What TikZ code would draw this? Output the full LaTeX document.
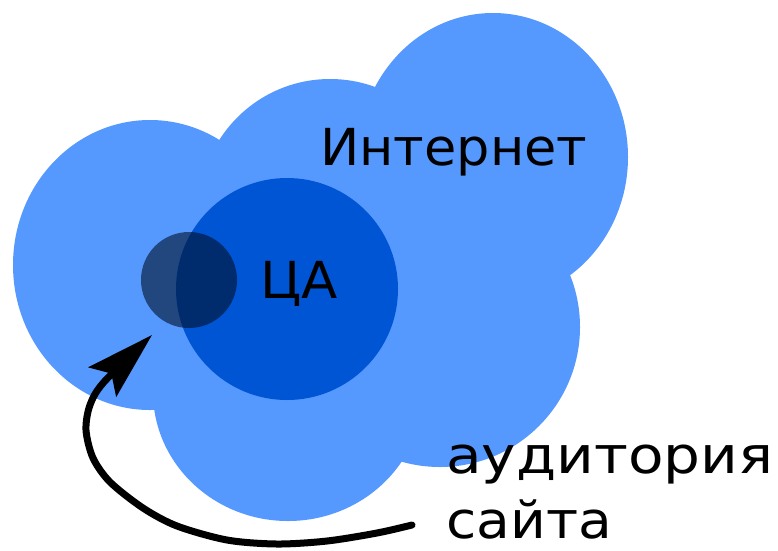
\documentclass[tikz,border=0pt]{standalone}
\usepackage{fontspec}
\setmainfont{DejaVu Sans}
\usetikzlibrary{arrows.meta}
\definecolor{lightb}{HTML}{5599FF}
\definecolor{darkb}{HTML}{0055D4}
\definecolor{navyc}{RGB}{0,17,43}
\tikzset{
  lobe/.style={fill=lightb, draw=none},
  lbl/.style={anchor=base west, inner sep=0pt, text=black},
  pointer/.style={line width=7pt, line cap=round, -{Stealth[length=68pt, width=40pt, inset=12pt]}}
}
\newcommand{\lblfont}[1]{\fontsize{51}{65}\selectfont\addfontfeature{FakeStretch=#1}}
\begin{document}
\begin{tikzpicture}[x=1pt, y=-1pt]
\useasboundingbox (0,0) rectangle (778,550);
% cloud
\fill[lobe] (150,265) ellipse [x radius=137, y radius=145];
\fill[lobe] (330,210) circle [radius=131];
\fill[lobe] (493,157) ellipse [x radius=135, y radius=144];
\fill[lobe] (440,327) circle [radius=140];
\fill[lobe] (288,392) ellipse [x radius=135, y radius=129];
% target audience
\node[circle, fill=darkb, minimum size=222pt, inner sep=0pt] (ca) at (287,289) {};
\node[circle, fill=navyc, fill opacity=0.6, minimum size=96pt, inner sep=0pt] (sc) at (189,280) {};
% labels
\node[lbl, font=\lblfont{1.03}] (inet) at (320,165) {Интернет};
\node[lbl, font=\lblfont{1.04}] (catext) at (260,298) {ЦА};
\node[lbl, font=\lblfont{1.14}] (aud) at (446,473) {аудитория};
\node[lbl, font=\lblfont{1.08}] (site) at (446,538) {сайта};
% arrow
\coordinate (arrstart) at (412,525);
\coordinate (arrend) at (152,335);
\draw[pointer] plot[smooth, tension=0.5] coordinates {(arrstart) (377,533) (327,541) (277,544) (227,540) (177,526) (143,508) (110,482) (93,458) (86,430) (90,405) (104,382) (arrend)};
\end{tikzpicture}
\end{document}
